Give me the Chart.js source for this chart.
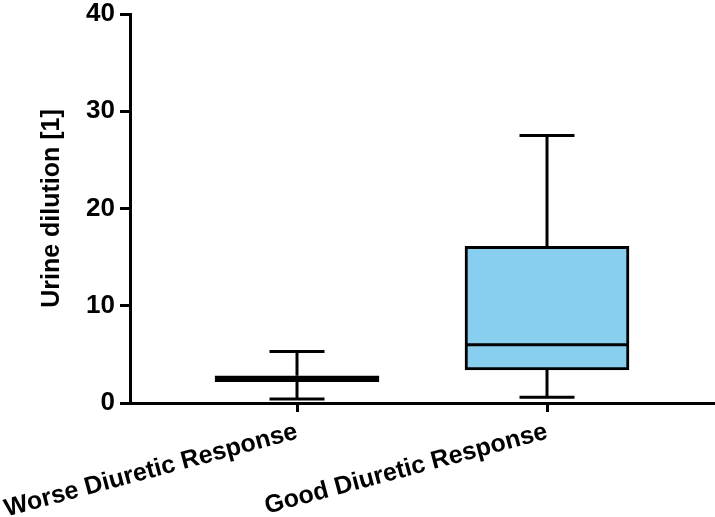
<!DOCTYPE html>
<html><head><meta charset="utf-8">
<script src="https://cdn.jsdelivr.net/npm/chart.js@4/dist/chart.umd.min.js"></script>
<style>html,body{margin:0;padding:0;background:#fff}</style>
</head><body><canvas id="c" width="715" height="517"></canvas>
<script>
const categories = ["Worse Diuretic Response", "Good Diuretic Response"];
const positions = [1, 2];
const whiskerMin = [0.4, 0.6];
const q1 = [2.2, 3.4];
const medians = [2.5, 6.0];
const q3 = [2.8, 16.1];
const whiskerMax = [5.3, 27.5];
const yTicks = [0, 10, 20, 30, 40];

const FONT = 'Liberation Sans, Arial, sans-serif';

const boxPlugin = {
  id: 'boxWhiskers',
  afterDatasetsDraw(chart) {
    const ctx = chart.ctx, xs = chart.scales.x, ys = chart.scales.y;
    ctx.save();
    ctx.strokeStyle = '#000';
    ctx.lineWidth = 3;
    ctx.lineCap = 'butt';
    positions.forEach((p, i) => {
      const cx = xs.getPixelForValue(p);
      const half = 82, capHalf = 27.5;
      const yMin = ys.getPixelForValue(whiskerMin[i]);
      const yMax = ys.getPixelForValue(whiskerMax[i]);
      const yQ1 = ys.getPixelForValue(q1[i]);
      const yQ3 = ys.getPixelForValue(q3[i]);
      const yMed = ys.getPixelForValue(medians[i]);
      ctx.beginPath();
      ctx.moveTo(cx, yQ3); ctx.lineTo(cx, yMax);
      ctx.moveTo(cx - capHalf, yMax); ctx.lineTo(cx + capHalf, yMax);
      ctx.moveTo(cx, yQ1); ctx.lineTo(cx, yMin);
      ctx.moveTo(cx - capHalf, yMin); ctx.lineTo(cx + capHalf, yMin);
      ctx.moveTo(cx - half, yMed); ctx.lineTo(cx + half, yMed);
      ctx.stroke();
    });
    ctx.restore();
  }
};

new Chart(document.getElementById('c'), {
  type: 'bar',
  data: {
    datasets: [{
      data: positions.map((p, i) => ({ x: p, y: [q1[i], q3[i]] })),
      backgroundColor: '#87CEEF',
      borderColor: '#000',
      borderWidth: 3,
      borderSkipped: false,
      barThickness: 164
    }]
  },
  options: {
    responsive: false,
    animation: false,
    devicePixelRatio: 1,
    layout: { padding: { top: 14, right: 0, left: 0, bottom: 0 } },
    plugins: { legend: { display: false }, tooltip: { enabled: false } },
    scales: {
      x: {
        type: 'linear',
        offset: false,
        min: 0.332, max: 2.672,
        afterBuildTicks(scale) { scale.ticks = positions.map(v => ({ value: v })); },
        afterFit(scale) { scale.height = 114; scale.paddingLeft = 0; scale.paddingRight = 0; },
        ticks: {
          callback(v) { const i = positions.indexOf(v); return i >= 0 ? categories[i] : ''; },
          minRotation: 15, maxRotation: 15,
          color: '#000',
          font: { family: FONT, size: 25, weight: 'bold' },
          padding: 5
        },
        grid: { offset: false, drawOnChartArea: false, color: '#000', lineWidth: 3, tickLength: 9 },
        border: { color: '#000', width: 3 }
      },
      y: {
        min: 0, max: 40,
        afterBuildTicks(scale) { scale.ticks = yTicks.map(v => ({ value: v })); },
        afterFit(scale) { scale.width = 130; scale.paddingTop = 0; scale.paddingBottom = 0; },
        ticks: {
          color: '#000',
          font: { family: FONT, size: 26, weight: 'bold' },
          padding: 5
        },
        grid: { drawOnChartArea: false, color: '#000', lineWidth: 3, tickLength: 10 },
        border: { color: '#000', width: 3 },
        title: {
          display: true,
          text: 'Urine dilution [1]',
          color: '#000',
          font: { family: FONT, size: 25, weight: 'bold' },
          padding: { top: 37, bottom: 0 }
        }
      }
    }
  },
  plugins: [boxPlugin]
});
</script>
</body></html>
